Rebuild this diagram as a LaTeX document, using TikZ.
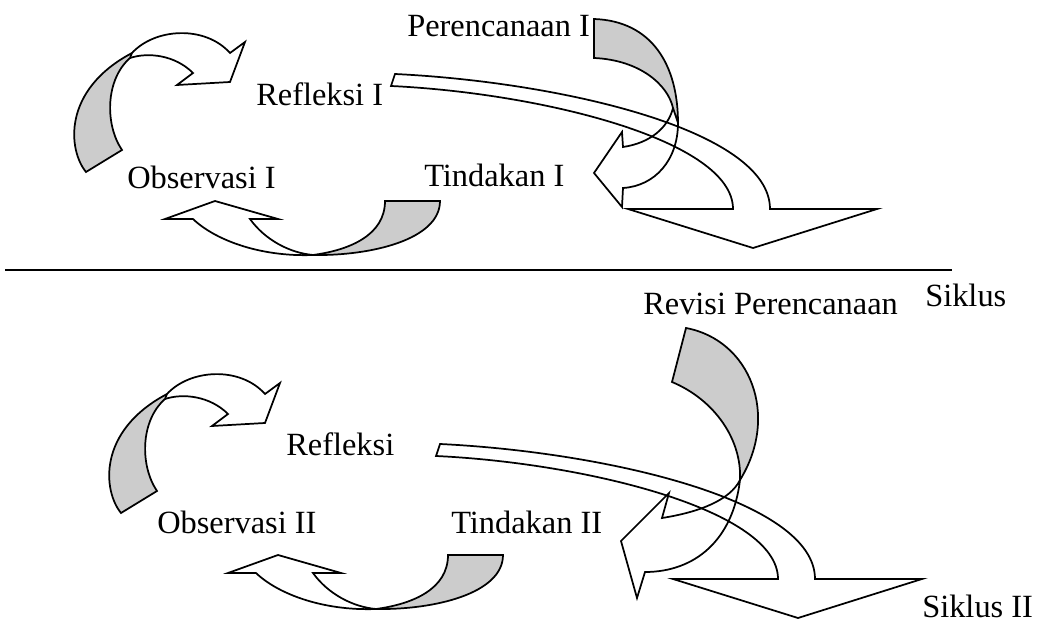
\documentclass[tikz,border=0pt]{standalone}
\usepackage{fontspec}
\setmainfont{Liberation Serif}
\begin{document}
\begin{tikzpicture}[x=0.75pt,y=-0.75pt,
  outline/.style={draw=black,line width=1.3pt,line join=miter},
  greyfill/.style={fill=black!20},
  txt/.style={anchor=base west,inner sep=0pt,font=\fontsize{24.3}{29}\selectfont},
  sepline/.style={line width=1.8pt}]

\tikzset{
  % circular arrow sweeping over the top, grey back side at its tail
  swirl/.pic={
    \path[outline,greyfill] (86,172) -- (122,150) .. controls (105,125) and (105,80) .. (130,58)
      -- (132,53) .. controls (62,90) and (68,150) .. (86,172) -- cycle;
    \path[outline] (132,53) .. controls (155,28) and (205,25) .. (230,53) -- (245,42) -- (230,82)
      -- (177,85) -- (193,73) .. controls (175,55) and (148,52) .. (130,58);
  },
  % U-shaped arrow running underneath, pointing left
  scoop/.pic={
    \path[outline,greyfill] (385,201) -- (440,201) .. controls (440,240) and (370,256) .. (313,255)
      .. controls (350,250) and (385,235) .. (385,201) -- cycle;
    \path[outline] (313,255) .. controls (260,257) and (215,240) .. (193,219) -- (165,219)
      -- (215,201) -- (278,219) -- (250,219) .. controls (265,240) and (290,253) .. (313,255);
  },
  % long sweeping arrow ending in a wide downward head
  sweep/.pic={
    \path[outline] (395,74) .. controls (560,82) and (770,130) .. (770,209) -- (877,209)
      -- (753,248) -- (628,209) -- (733,209) .. controls (733,140) and (540,93) .. (391,86) -- cycle;
  }
}

\useasboundingbox[fill=white] (0,0) rectangle (1040,627);

% ---- first cycle ----
\pic at (0,0) {swirl};
\pic at (0,0) {scoop};

% planning arrow turning down-left
\path[outline,greyfill] (594,19) .. controls (652,21) and (678,65) .. (678,123) -- (673,108)
  .. controls (668,85) and (640,60) .. (594,58) -- cycle;
\path[outline] (678,123) .. controls (678,160) and (655,186) .. (623,188) -- (622,207)
  -- (594,173) -- (622,132) -- (623,147) .. controls (650,143) and (668,128) .. (673,108);

\pic at (0,0) {sweep};

\node[txt] (plan1) at (407,37) {Perencanaan I};
\node[txt] (refl1) at (256,106) {Refleksi I};
\node[txt] (obs1)  at (127,189) {Observasi I};
\node[txt] (act1)  at (424,187) {Tindakan I};
\node[txt] (cyc1)  at (925,307) {Siklus};

% separator between the two cycles
\coordinate (ruleL) at (5,270);
\coordinate (ruleR) at (952,270);
\draw[sepline] (ruleL) -- (ruleR);

% ---- second cycle ----
\pic at (35,341) {swirl};
\pic at (63,354) {scoop};

% revised planning arrow
\path[outline,greyfill] (686,328) .. controls (750,340) and (780,415) .. (740,480)
  .. controls (742,440) and (715,400) .. (672,382) -- cycle;
\path[outline] (740,480) .. controls (733,540) and (695,572) .. (645,572) -- (637,598)
  -- (621,541) -- (669,493) -- (662,518) .. controls (700,512) and (730,500) .. (740,480);

\pic at (45,370) {sweep};

\node[txt] (plan2) at (643,315) {Revisi Perencanaan};
\node[txt] (refl2) at (286,456) {Refleksi};
\node[txt] (obs2)  at (157,533) {Observasi II};
\node[txt] (act2)  at (451,533) {Tindakan II};
\node[txt] (cyc2)  at (922,617) {Siklus II};
\end{tikzpicture}
\end{document}
